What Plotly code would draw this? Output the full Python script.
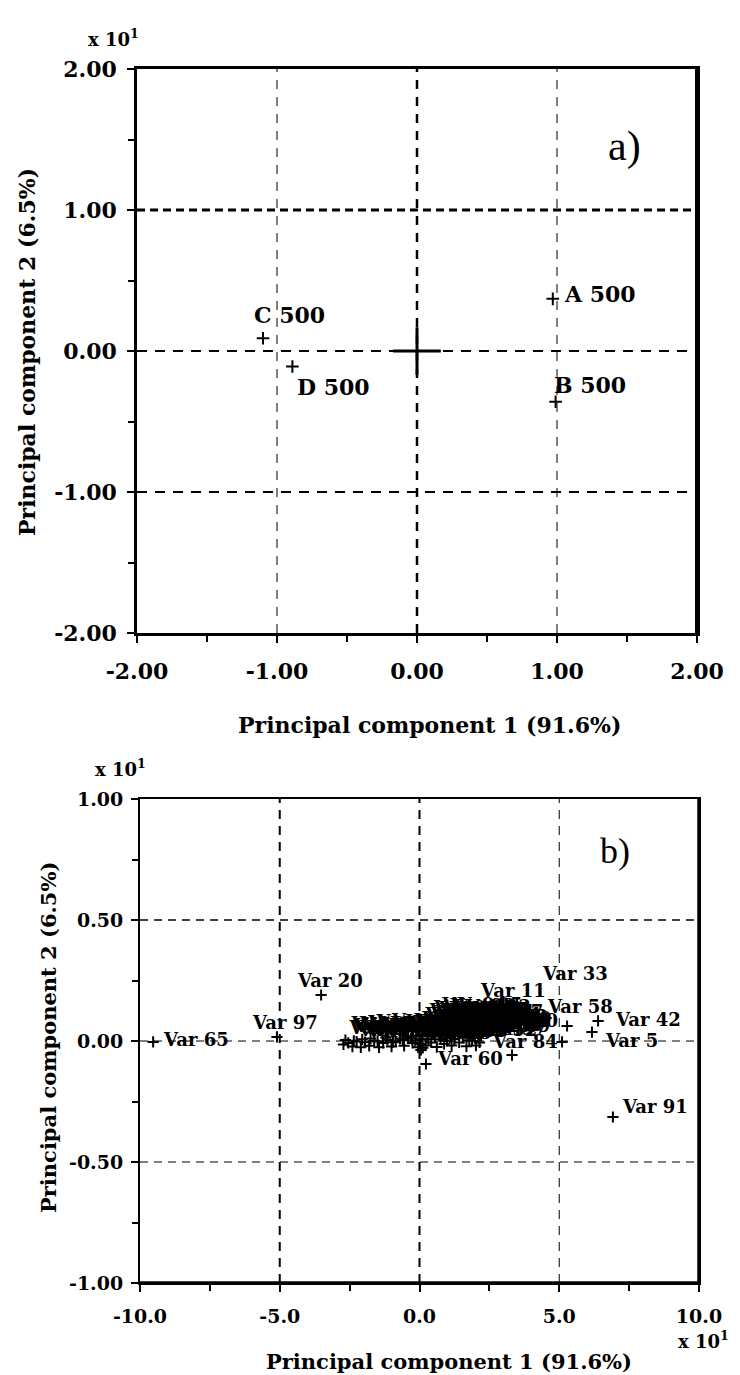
import plotly.graph_objects as go

W, H = 740, 1375          # window size
OFF = 8                   # default page body margin
FW, FH = W - OFF, H - OFF # figure size
FONT = "DejaVu Serif"
TFONT = "Liberation Serif"

# ---------------- Panel a) data ----------------
a_names = ["A 500", "B 500", "C 500", "D 500"]
a_pc1 = [0.97, 0.99, -1.10, -0.89]
a_pc2 = [0.37, -0.36, 0.09, -0.11]
a_center_pc1 = [0.0]
a_center_pc2 = [0.0]
a_ticks = [-2.0, -1.0, 0.0, 1.0, 2.0]
a_ticktext = ["-2.00", "-1.00", "0.00", "1.00", "2.00"]
a_minor_dtick = 0.5
a_grid_x = [-1.0, 0.0, 1.0]
a_grid_y = [1.0, 0.0, -1.0]

# ---------------- Panel b) data ----------------
b_out_names = ["Var 65", "Var 97", "Var 20", "Var 11", "Var 33", "Var 58",
               "Var 42", "Var 5", "Var 60", "Var 91", "Var 3", "Var 84"]
b_out_pc1 = [-9.53, -5.10, -3.52, 3.49, 5.28, 4.53, 6.39, 6.17, 0.23, 6.92, 2.09, 5.10]
b_out_pc2 = [-0.004, 0.017, 0.19, 0.157, 0.062, 0.095, 0.083, 0.037, -0.095, -0.314, 0.087, -0.004]
b_extra_pc1 = [3.31]
b_extra_pc2 = [-0.058]

b_cluster_names = ["Var 1", "Var 2", "Var 4", "Var 6", "Var 7", "Var 8", "Var 9", "Var 10",
                   "Var 12", "Var 13", "Var 14", "Var 15", "Var 16", "Var 17", "Var 18",
                   "Var 19", "Var 21", "Var 22", "Var 23", "Var 24", "Var 25", "Var 26",
                   "Var 27", "Var 28", "Var 29", "Var 30", "Var 31", "Var 32", "Var 34",
                   "Var 35", "Var 36", "Var 37", "Var 38", "Var 39", "Var 40", "Var 41",
                   "Var 43", "Var 44", "Var 45", "Var 46", "Var 47", "Var 48", "Var 49",
                   "Var 50", "Var 51", "Var 52", "Var 53", "Var 54", "Var 55", "Var 56",
                   "Var 57", "Var 59",
                   "Var 61", "Var 62", "Var 63", "Var 64", "Var 66", "Var 67", "Var 68",
                   "Var 69", "Var 70", "Var 71", "Var 72", "Var 73", "Var 74", "Var 75",
                   "Var 76", "Var 77", "Var 78", "Var 79", "Var 80", "Var 81", "Var 82",
                   "Var 83", "Var 85", "Var 86", "Var 87", "Var 88", "Var 89", "Var 90",
                   "Var 92", "Var 93", "Var 94", "Var 95", "Var 96", "Var 98", "Var 99",
                   "Var 100"]
b_cluster_pc1 = [-2.72, -2.55, -2.40, -2.25, -2.10, -1.95, -1.80, -1.62, -1.45, -1.30,
                 -1.15, -1.00, -0.85, -0.70, -0.55, -0.40, -0.25, -0.12, -0.05,
                 0.00, 0.05, 0.10, 0.15, 0.22, 0.28, 0.35, 0.42, 0.48, 0.55, 0.62,
                 0.68, 0.75, 0.82, 0.88, 0.95, 1.02, 1.08, 1.15, 1.22, 1.28, 1.35,
                 1.42, 1.48, 1.55, 1.62, 1.68, 1.75, 1.82, 1.88, 1.95, 2.02, 2.10,
                 -2.65, -2.35, -2.05, -1.75, -1.50, -1.20, -0.95, -0.60, -0.30, -0.15,
                 0.08, 0.20, 0.32, 0.45, 0.58, 0.70, 0.85, 0.98, 1.10, 1.25, 1.38,
                 1.52, 1.65, 1.78, 1.90, 2.05, 2.15, 0.30, 0.90, 1.45, 0.60, 1.15,
                 0.02, 0.12, 2.20, 1.98]
b_cluster_pc2 = [-0.014, -0.008, -0.023, -0.002, -0.026, -0.005, -0.020, 0.001, -0.026, -0.008,
                 0.004, -0.023, -0.002, 0.010, -0.020, 0.016, -0.008, 0.022, -0.026,
                 0.038, -0.037, 0.007, 0.057, -0.019, 0.026, 0.048, -0.006, 0.063, 0.019, -0.025,
                 0.041, 0.007, 0.057, -0.012, 0.032, 0.066, 0.013, -0.019, 0.044, 0.026, 0.060,
                 -0.006, 0.035, 0.013, 0.051, -0.022, 0.022, 0.041, 0.000, 0.029, -0.019, 0.013,
                 0.004, 0.001, 0.007, 0.010, -0.002, 0.013, -0.005, 0.004, 0.010, 0.001,
                 0.019, 0.041, 0.007, 0.032, 0.054, 0.022, 0.038, 0.000, 0.051, 0.007, 0.041,
                 0.057, 0.032, 0.003, 0.051, 0.032, -0.006, 0.070, 0.076, 0.073, 0.079, 0.082,
                 -0.012, -0.028, 0.022, 0.013]

b_xticks = [-10.0, -5.0, 0.0, 5.0, 10.0]
b_xticktext = ["-10.0", "-5.0", "0.0", "5.0", "10.0"]
b_x_minor_dtick = 2.5
b_yticks = [-1.0, -0.5, 0.0, 0.5, 1.0]
b_yticktext = ["-1.00", "-0.50", "0.00", "0.50", "1.00"]
b_y_minor_dtick = 0.25
b_grid_x = [-5.0, 0.0, 5.0]
b_grid_y = [0.5, 0.0, -0.5]

# ---------------- styling (not data) ----------------
a_lab_anchor = ["left", "left", "left", "left"]
a_lab_dx = [9, -4, -11, 3]
a_lab_dy = [5, 17, 23, -20]
b_lab_anchor = ["left", "center", "center", "center", "center", "left",
                "left", "left", "left", "left", "center", "right"]
b_lab_dx = [8, 8, 9, -4, 8, -1, 15, 11, 9, 7, 2, -2]
b_lab_dy = [2, 14, 15, 13, 53, 12, 1, -8, 5, 10, 13, 0]
a_grid_x_style = [(1, "9px,8px"), (2.5, "9px,8px"), (1, "9px,8px")]
a_grid_y_style = [(3, "8px,5px"), (2, "10px,8px"), (2, "10px,8px")]
b_grid_x_style = [(2, "9px,7px"), (2, "9px,7px"), (1, "9px,7px")]
b_grid_y_style = [(1.5, "8px,6px"), (1, "8px,6px"), (1, "8px,6px")]


def px(x):
    return (x - OFF) / FW


def py(y):
    return 1 - (y - OFF) / FH


fig = go.Figure()

# panel a points
fig.add_trace(go.Scatter(x=a_pc1, y=a_pc2, mode="markers", xaxis="x", yaxis="y",
                         marker=dict(symbol="cross-thin", size=9,
                                     line=dict(width=2, color="black")),
                         showlegend=False, cliponaxis=False))
fig.add_trace(go.Scatter(x=a_center_pc1, y=a_center_pc2, mode="markers", xaxis="x", yaxis="y",
                         marker=dict(symbol="cross-thin", size=34,
                                     line=dict(width=3, color="black")),
                         showlegend=False))

# panel b points
fig.add_trace(go.Scatter(x=b_cluster_pc1, y=b_cluster_pc2, mode="markers+text",
                         xaxis="x2", yaxis="y2", text=b_cluster_names,
                         textposition="top right",
                         textfont=dict(family=FONT, size=18, color="black", weight="bold"),
                         marker=dict(symbol="cross-thin", size=8,
                                     line=dict(width=2, color="black")),
                         showlegend=False, cliponaxis=False))
fig.add_trace(go.Scatter(x=b_out_pc1 + b_extra_pc1, y=b_out_pc2 + b_extra_pc2, mode="markers",
                         xaxis="x2", yaxis="y2",
                         marker=dict(symbol="cross-thin", size=8,
                                     line=dict(width=2, color="black")),
                         showlegend=False, cliponaxis=False))

annotations = []
for n, x, y, anc, dx, dy in zip(a_names, a_pc1, a_pc2, a_lab_anchor, a_lab_dx, a_lab_dy):
    annotations.append(dict(x=x, y=y, xref="x", yref="y", text=n, showarrow=False,
                            xanchor=anc, yanchor="middle", xshift=dx, yshift=dy,
                            font=dict(family=FONT, size=22, color="black", weight="bold")))
for n, x, y, anc, dx, dy in zip(b_out_names, b_out_pc1, b_out_pc2, b_lab_anchor, b_lab_dx, b_lab_dy):
    annotations.append(dict(x=x, y=y, xref="x2", yref="y2", text=n, showarrow=False,
                            xanchor=anc, yanchor="middle", xshift=dx, yshift=dy,
                            font=dict(family=FONT, size=18, color="black", weight="bold")))

bold = dict(family=FONT, color="black", weight="bold")


def note(x, y, text, font, angle=0):
    return dict(x=px(x), y=py(y), xref="paper", yref="paper", text=text, showarrow=False,
                xanchor="center", yanchor="middle", textangle=angle, font=font)


annotations += [
    note(429, 725, "Principal component 1 (91.6%)", dict(size=22, **bold)),
    note(27, 352, "Principal component 2 (6.5%)", dict(size=22, **bold), -90),
    note(449, 1361, "Principal component 1 (91.6%)", dict(size=21, **bold)),
    note(48, 1038, "Principal component 2 (6.5%)", dict(size=21, **bold), -90),
    note(113, 38, "x 10<sup>1</sup>", dict(size=18, **bold)),
    note(120, 768, "x 10<sup>1</sup>", dict(size=18, **bold)),
    note(703, 1340, "x 10<sup>1</sup>", dict(size=18, **bold)),
    note(624, 146, "a)", dict(family=TFONT, size=42, color="black")),
    note(615, 851, "b)", dict(family=TFONT, size=36, color="black")),
]

shapes = []
for gx, (w, d) in zip(a_grid_x, a_grid_x_style):
    shapes.append(dict(type="line", xref="x", yref="y domain", x0=gx, x1=gx, y0=0, y1=1,
                       line=dict(color="black", width=w, dash=d), layer="below"))
for gy, (w, d) in zip(a_grid_y, a_grid_y_style):
    shapes.append(dict(type="line", xref="x domain", yref="y", x0=0, x1=1, y0=gy, y1=gy,
                       line=dict(color="black", width=w, dash=d), layer="below"))
for gx, (w, d) in zip(b_grid_x, b_grid_x_style):
    shapes.append(dict(type="line", xref="x2", yref="y2 domain", x0=gx, x1=gx, y0=0, y1=1,
                       line=dict(color="black", width=w, dash=d), layer="below"))
for gy, (w, d) in zip(b_grid_y, b_grid_y_style):
    shapes.append(dict(type="line", xref="x2 domain", yref="y2", x0=0, x1=1, y0=gy, y1=gy,
                       line=dict(color="black", width=w, dash=d), layer="below"))
# thicker right / bottom frame lines
shapes.append(dict(type="line", xref="x domain", yref="y domain", x0=1, x1=1, y0=0, y1=1,
                   line=dict(color="black", width=4)))
shapes.append(dict(type="line", xref="x2 domain", yref="y2 domain", x0=1, x1=1, y0=0, y1=1,
                   line=dict(color="black", width=3.5)))
shapes.append(dict(type="line", xref="x2 domain", yref="y2 domain", x0=0, x1=1, y0=0, y1=0,
                   line=dict(color="black", width=3.5)))


def axis(domain, anchor, rng, vals, text, minor_dtick, lw, standoff, fsize):
    return dict(domain=domain, anchor=anchor, range=rng, tickmode="array",
                tickvals=vals, ticktext=text, linewidth=lw, ticklabelstandoff=standoff,
                tickfont=dict(size=fsize, **bold), showgrid=False, zeroline=False,
                showline=True, linecolor="black", mirror=True, ticks="outside",
                ticklen=7, tickwidth=2, tickcolor="black", automargin=False,
                minor=dict(ticks="outside", tick0=0, dtick=minor_dtick, ticklen=6,
                           tickwidth=2, tickcolor="black", showgrid=False))


fig.update_layout(
    template="none",
    width=FW, height=FH, margin=dict(l=0, r=0, t=0, b=0, pad=0, autoexpand=False),
    paper_bgcolor="white", plot_bgcolor="white", showlegend=False,
    xaxis=axis([px(137), px(697)], "y", [-2, 2], a_ticks, a_ticktext, a_minor_dtick, 3, 10, 22),
    yaxis=axis([py(633), py(69)], "x", [-2, 2], a_ticks, a_ticktext, a_minor_dtick, 2.5, 6, 22),
    xaxis2=axis([px(140), px(699)], "y2", [-10, 10], b_xticks, b_xticktext, b_x_minor_dtick, 2, 8, 19),
    yaxis2=axis([py(1283), py(799)], "x2", [-1, 1], b_yticks, b_yticktext, b_y_minor_dtick, 2, 4, 19),
    annotations=annotations, shapes=shapes,
)

fig.write_html("out.html")
